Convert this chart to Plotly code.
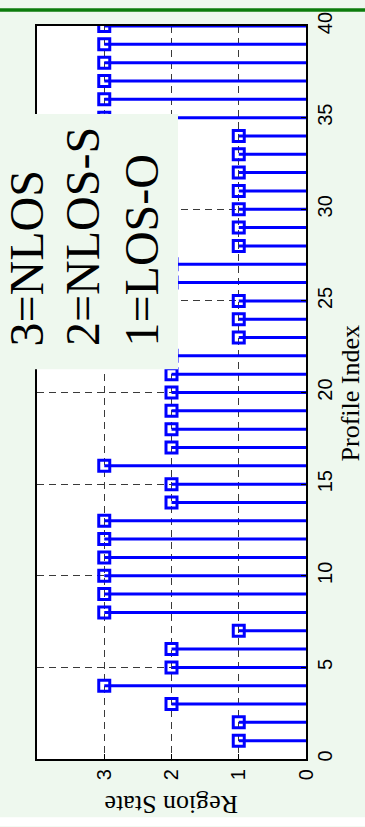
import plotly.graph_objects as go

# Region state recorded for each measurement profile
profile_index = list(range(1, 41))
region_state = [1, 1, 2, 3, 2, 2, 1, 3, 3, 3,
                3, 3, 3, 2, 2, 3, 2, 2, 2, 2,
                2, 2, 1, 1, 1, 2, 2, 1, 1, 1,
                1, 1, 1, 1, 3, 3, 3, 3, 3, 3]
state_ticks = [0, 1, 2, 3]
index_ticks = list(range(0, 41, 5))
legend_lines = ["3=NLOS", "2=NLOS-S", "1=LOS-O"]

W, H = 365, 827
ML, MR, MT, MB = 37, 59, 18, 68
PW, PH = W - ML - MR, H - MT - MB

BG = "#eef8ee"
BLUE = "#0000ff"
SANS = "Liberation Sans, Arial, sans-serif"
SERIF = "Liberation Serif, Times New Roman, serif"


def px(x):
    """pixel column -> paper x"""
    return (x - ML) / PW


def py(y):
    """pixel row -> paper y"""
    return (H - MB - y) / PH


# stems run from state 0 out to each profile's state
stem_x, stem_y = [], []
for i, s in zip(profile_index, region_state):
    stem_x += [0, s, None]
    stem_y += [i, i, None]

fig = go.Figure()
fig.add_trace(go.Scatter(x=stem_x, y=stem_y, mode="lines",
                         line=dict(color=BLUE, width=3),
                         hoverinfo="skip", showlegend=False))
fig.add_trace(go.Scatter(x=region_state, y=profile_index, mode="markers",
                         marker=dict(symbol="square-open", size=11,
                                     color=BLUE, line=dict(color=BLUE, width=3)),
                         showlegend=False))

axis_common = dict(
    showgrid=True, gridcolor="#3a3a3a", gridwidth=1, griddash="7px,5px",
    zeroline=False, showline=True, linecolor="black", linewidth=2,
    mirror=True, ticks="inside", ticklen=5, tickcolor="black",
    tickangle=-90, tickfont=dict(family=SANS, size=20, color="black"),
)

fig.update_layout(
    width=W, height=H,
    margin=dict(l=ML, r=MR, t=MT, b=MB),
    paper_bgcolor=BG, plot_bgcolor="white",
    xaxis=dict(range=[4, 0], tickvals=state_ticks, **axis_common),
    yaxis=dict(range=[0, 40], side="right", tickvals=index_ticks, **axis_common),
    shapes=[
        dict(type="rect", xref="paper", yref="paper",
             x0=px(0), x1=px(W), y0=py(3.5), y1=py(0),
             fillcolor="#0c7c0c", line=dict(width=0), layer="above"),
        dict(type="rect", xref="paper", yref="paper",
             x0=px(0), x1=px(W), y0=py(H), y1=py(818),
             fillcolor="white", line=dict(width=0), layer="above"),
        dict(type="rect", xref="paper", yref="paper",
             x0=px(0), x1=px(178), y0=py(365), y1=py(107),
             fillcolor=BG, line=dict(width=0), layer="above"),
    ],
)

# state legend text inside the box
for cx, txt in zip([26, 83, 141], legend_lines):
    fig.add_annotation(text=txt, xref="paper", yref="paper",
                       x=px(cx), y=py(344), xanchor="center", yanchor="bottom",
                       textangle=-90, showarrow=False,
                       font=dict(family=SERIF, size=48, color="black"))

# axis titles
fig.add_annotation(text="Region State", xref="paper", yref="paper",
                   x=px(171), y=py(805), xanchor="center", yanchor="middle",
                   textangle=180, showarrow=False,
                   font=dict(family=SERIF, size=26, color="black"))
fig.add_annotation(text="Profile Index", xref="paper", yref="paper",
                   x=px(350), y=py(389.5), xanchor="center", yanchor="middle",
                   textangle=-90, showarrow=False, borderpad=0,
                   font=dict(family=SERIF, size=26, color="black"))

fig.write_html("out.html")
